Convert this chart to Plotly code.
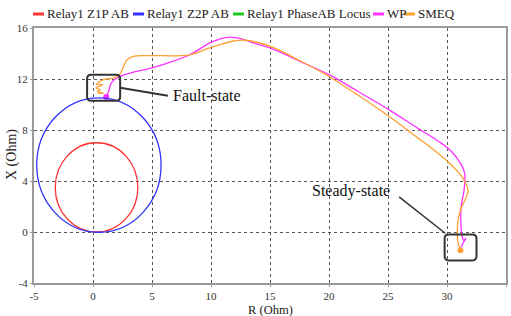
import plotly.graph_objects as go

# ---- data ----
legend_names = ["Relay1 Z1P AB", "Relay1 Z2P AB", "Relay1 PhaseAB Locus", "WP", "SMEQ"]
legend_colors = ["rgb(255,50,50)", "rgb(50,50,255)", "rgb(30,200,30)", "rgb(255,50,255)", "rgb(255,160,50)"]

z1_center = (0.3, 3.5)
z1_radius = 3.5
z2_center = (0.5, 5.25)
z2_radius = 5.27

wp_r = [1.12, 1.35, 1.5, 1.8, 2.4, 3.5, 5.0, 6.5, 8.2, 9.9, 10.8, 11.6, 12.6, 13.5, 15.0,
        17.5, 20.0, 22.5, 25.1, 27.5, 29.3, 30.4, 31.2, 31.5, 31.45, 31.2, 31.19, 31.27,
        31.42, 31.6, 31.35, 31.19]
wp_x = [10.58, 11.1, 11.6, 11.95, 12.25, 12.55, 12.87, 13.3, 13.9, 14.83, 15.15, 15.28, 15.15,
        14.85, 14.44, 13.4, 12.34, 11.0, 9.58, 8.15, 7.1, 6.3, 5.3, 4.6, 3.3, 1.97, 0.39, -0.26,
        -0.65, -0.5, -0.89, -1.2]

smeq_r = [0.4, 0.9, 0.35, 0.6, 0.25, 0.8, 0.3, 0.9, 1.74, 2.25, 2.6, 2.87, 3.4, 5.0, 8.2, 9.9,
          11.8, 13.0, 15.0, 17.5, 20.0, 22.5, 25.1, 27.5, 28.9, 30.15, 31.27, 31.78, 31.7,
          31.14, 30.9, 30.9, 31.14]
smeq_x = [10.85, 10.9, 11.0, 11.15, 11.3, 11.55, 11.6, 11.95, 12.08, 12.34, 13.0, 13.5, 13.78,
          13.83, 13.9, 14.44, 14.96, 15.04, 14.57, 13.45, 12.2, 10.7, 9.06, 7.4, 6.43, 5.45,
          4.33, 3.28, 2.89, 1.71, 0.66, -0.65, -1.44]

locus_r = []
locus_x = []

x_ticks = [-5, 0, 5, 10, 15, 20, 25, 30, 35]
y_ticks = [-4, 0, 4, 8, 12, 16]
x_title = "R (Ohm)"
y_title = "X (Ohm)"

SERIF = "Liberation Serif, Times New Roman, serif"

fig = go.Figure()

fig.add_trace(go.Scatter(x=locus_r, y=locus_x, mode="lines",
                         line=dict(color=legend_colors[2], width=1.3), showlegend=False))
fig.add_trace(go.Scatter(x=wp_r, y=wp_x, mode="lines", line_shape="spline",
                         line=dict(color=legend_colors[3], width=1.3), showlegend=False))
fig.add_trace(go.Scatter(x=smeq_r, y=smeq_x, mode="lines", line_shape="spline",
                         line=dict(color=legend_colors[4], width=1.3), showlegend=False))
# end points
fig.add_trace(go.Scatter(x=[wp_r[0]], y=[wp_x[0]], mode="markers",
                         marker=dict(color=legend_colors[3], size=6), showlegend=False))
fig.add_trace(go.Scatter(x=[smeq_r[-1]], y=[smeq_x[-1]], mode="markers",
                         marker=dict(color=legend_colors[4], size=6), showlegend=False))

shapes = []
# relay circles
for (cx, cy), r, col in [(z1_center, z1_radius, legend_colors[0]),
                         (z2_center, z2_radius, legend_colors[1])]:
    shapes.append(dict(type="circle", xref="x", yref="y", x0=cx - r, x1=cx + r,
                       y0=cy - r, y1=cy + r, line=dict(color=col, width=1.3), layer="above"))


def rounded_box(x0, x1, y0, y1, rx, ry):
    return (f"M {x0+rx},{y0} L {x1-rx},{y0} Q {x1},{y0} {x1},{y0+ry} "
            f"L {x1},{y1-ry} Q {x1},{y1} {x1-rx},{y1} "
            f"L {x0+rx},{y1} Q {x0},{y1} {x0},{y1-ry} "
            f"L {x0},{y0+ry} Q {x0},{y0} {x0+rx},{y0} Z")


box_col = "#333333"
shapes.append(dict(type="path", xref="x", yref="y",
                   path=rounded_box(-0.5, 2.3, 10.29, 12.33, 0.35, 0.32),
                   line=dict(color=box_col, width=2)))
shapes.append(dict(type="path", xref="x", yref="y",
                   path=rounded_box(29.8, 32.5, -2.23, -0.2, 0.35, 0.32),
                   line=dict(color=box_col, width=2)))
shapes.append(dict(type="line", xref="x", yref="y", x0=2.3, y0=11.31, x1=6.35, y1=10.69,
                   line=dict(color=box_col, width=2)))
shapes.append(dict(type="line", xref="x", yref="y", x0=25.94, y0=2.76, x1=29.85, y1=-0.1,
                   line=dict(color=box_col, width=1.5)))

annotations = [
    dict(x=6.6, y=10.72, xref="x", yref="y", text="Fault-state", showarrow=False,
         xanchor="left", yanchor="middle", font=dict(family=SERIF, size=16, color="#111")),
    dict(x=21.86, y=3.25, xref="x", yref="y", text="Steady-state", showarrow=False,
         xanchor="center", yanchor="middle", font=dict(family=SERIF, size=16, color="#111")),
]

W, H = 511, 316
PL, PR, PT, PB = 34, 506, 28, 283


def fx(px):
    return (px - PL) / (PR - PL)


def fy(py):
    return (PB - py) / (PB - PT)


# axis titles
annotations.append(dict(x=fx(270), y=fy(309.5), xref="paper", yref="paper", text=x_title,
                        showarrow=False, xanchor="center", yanchor="middle", borderpad=0,
                        font=dict(family=SERIF, size=12.5, color="#222")))
annotations.append(dict(x=fx(12), y=fy(155), xref="paper", yref="paper", text=y_title,
                        showarrow=False, xanchor="center", yanchor="middle", textangle=-90,
                        font=dict(family=SERIF, size=14, color="#222")))

# manual legend
leg_line_x = [33, 133, 233, 373, 404]
leg_y = 14
for name, col, lx in zip(legend_names, legend_colors, leg_line_x):
    shapes.append(dict(type="line", xref="paper", yref="paper",
                       x0=fx(lx), x1=fx(lx + 11), y0=fy(leg_y), y1=fy(leg_y),
                       line=dict(color=col, width=3)))
    annotations.append(dict(x=fx(lx + 12), y=fy(leg_y), xref="paper", yref="paper",
                            text=name, showarrow=False, xanchor="left", yanchor="middle",
                            font=dict(family=SERIF, size=13, color="#222")))

axis_common = dict(showline=True, linecolor="#9a9a9a", linewidth=2, mirror=True,
                   showgrid=True, gridcolor="#555555", griddash="dot", gridwidth=1,
                   zeroline=False, ticks="outside", ticklen=2, tickcolor="#9a9a9a",
                   tickfont=dict(family=SERIF, size=11, color="#333"),
                   automargin=False)

fig.update_layout(
    width=W, height=H,
    margin=dict(l=PL, r=W - PR, t=PT, b=H - PB),
    paper_bgcolor="white", plot_bgcolor="white",
    showlegend=False,
    font=dict(family=SERIF),
    shapes=shapes, annotations=annotations,
    xaxis=dict(range=[-5, 35], tickvals=x_ticks, ticktext=[str(v) for v in x_ticks],
               **axis_common),
    yaxis=dict(range=[-4, 16], tickvals=y_ticks, ticktext=[str(v) for v in y_ticks],
               **axis_common),
)

fig.write_html("out.html", config={"displayModeBar": False},
               post_script="document.body.style.margin='0';document.body.style.padding='0';")
